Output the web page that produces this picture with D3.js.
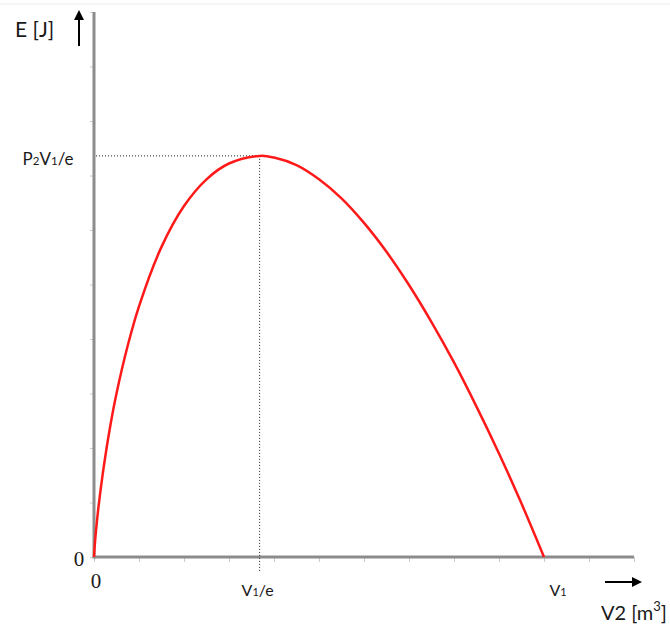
<!DOCTYPE html>
<html>
<head>
<meta charset="utf-8">
<script src="https://cdn.jsdelivr.net/npm/d3@7"></script>
<style>
  body { margin: 0; background: #fff; }
  text { font-family: Lato, "Open Sans", "DejaVu Sans", sans-serif; fill: #1a1a1a; }
  .serif { font-family: "Liberation Serif", "DejaVu Serif", serif; }
</style>
</head>
<body>
<div id="chart"></div>
<script>
let width = 670, height = 628;

// (x in tick units of V2, y in tick units of E)
let volume = [0, 0.02, 0.05, 0.1, 0.2, 0.35, 0.5, 0.75, 1, 1.5, 2, 2.5, 3, 3.68, 4, 4.5, 5, 5.5, 6, 6.5, 7, 7.5, 8, 8.5, 9, 9.5, 10];
let energy = [0, 0.25, 0.53, 0.92, 1.56, 2.35, 3.0, 3.88, 4.6, 5.69, 6.44, 6.93, 7.22, 7.36, 7.33, 7.19, 6.93, 6.58, 6.13, 5.6, 4.99, 4.31, 3.57, 2.76, 1.9, 0.98, 0];

let xTicks = d3.range(0, 13, 1);
let yTicks = d3.range(0, 11, 1);
// label parts: [text, subscript?]
let xLabels = [
    { v: 3.68, parts: [['V', false], ['1', true], ['/e', false]] },
    { v: 10, parts: [['V', false], ['1', true]] }
];
let peakLabel = [['P', false], ['2', true], ['V', false], ['1', true], ['/e', false]];
let peak = { v: 3.68, e: 7.36 };

let svg = d3.select('#chart')
    .append('svg')
    .attr('width', width)
    .attr('height', height);

let x = d3.scaleLinear().domain([0, 12]).range([94, 634]);
let y = d3.scaleLinear().domain([0, 10]).range([557, 12]);

// faint top border
svg.append('line')
    .attr('x1', 0).attr('x2', width)
    .attr('y1', 4).attr('y2', 4)
    .attr('stroke', '#ececec')
    .attr('stroke-width', 1);

// tick marks
let xAxis = svg.append('g')
    .attr('transform', `translate(0,${y(0)})`)
    .call(d3.axisBottom(x).tickValues(xTicks).tickSize(5).tickFormat(''));
let yAxis = svg.append('g')
    .attr('transform', `translate(${x(0)},0)`)
    .call(d3.axisLeft(y).tickValues(yTicks).tickSize(4).tickFormat(''));
[xAxis, yAxis].forEach(g => {
    g.select('.domain').remove();
    g.selectAll('.tick line').attr('stroke', '#cccccc').attr('stroke-width', 1);
});

// axis lines
svg.append('line')
    .attr('x1', x(0)).attr('x2', x(12))
    .attr('y1', y(0)).attr('y2', y(0))
    .attr('stroke', '#8c8c8c').attr('stroke-width', 3);
svg.append('line')
    .attr('x1', x(0)).attr('x2', x(0))
    .attr('y1', y(0) + 1.5).attr('y2', y(10))
    .attr('stroke', '#8c8c8c').attr('stroke-width', 3);

// dotted guides
svg.append('line')
    .attr('x1', x(0) + 2).attr('x2', x(peak.v))
    .attr('y1', y(peak.e)).attr('y2', y(peak.e))
    .attr('stroke', '#222').attr('stroke-width', 1)
    .attr('stroke-dasharray', '1,2');
svg.append('line')
    .attr('x1', x(peak.v)).attr('x2', x(peak.v))
    .attr('y1', y(peak.e)).attr('y2', y(0) + 14)
    .attr('stroke', '#222').attr('stroke-width', 1)
    .attr('stroke-dasharray', '1,2');

// curve
let pts = volume.map((v, i) => [v, energy[i]]);
svg.append('path')
    .datum(pts)
    .attr('fill', 'none')
    .attr('stroke', '#ff1a1a')
    .attr('stroke-width', 2.5)
    .attr('d', d3.line()
        .x(d => x(d[0]))
        .y(d => y(d[1]))
        .curve(d3.curveCatmullRom));

function subText(sel, parts, size) {
    parts.forEach(p => {
        sel.append('tspan')
            .style('font-size', p[1] ? (size * 0.68) + 'px' : size + 'px')
            .text(p[0]);
    });
}

// labels
svg.append('text')
    .attr('class', 'serif')
    .attr('x', 79).attr('y', 566)
    .attr('text-anchor', 'middle')
    .style('font-size', '21px')
    .text('0');
svg.append('text')
    .attr('class', 'serif')
    .attr('x', x(0) + 2).attr('y', 588)
    .attr('text-anchor', 'middle')
    .style('font-size', '21px')
    .text('0');

subText(svg.append('text')
    .attr('x', 48).attr('y', y(peak.e) + 9)
    .attr('text-anchor', 'middle'), peakLabel, 17);

svg.selectAll('.xlab')
    .data(xLabels)
    .enter()
    .append('text')
    .attr('x', d => x(d.v) + (d.v === 10 ? 14 : -2))
    .attr('y', 596)
    .attr('text-anchor', 'middle')
    .each(function (d) { subText(d3.select(this), d.parts, 16); });

svg.append('text')
    .attr('x', 15).attr('y', 37)
    .style('font-size', '21px')
    .text('E [J]');

let xTitle = svg.append('text')
    .attr('x', 601).attr('y', 620)
    .style('font-size', '20px');
xTitle.append('tspan').text('V2 [m');
xTitle.append('tspan').attr('dy', -9).style('font-size', '13px').text('3');
xTitle.append('tspan').attr('dy', 9).text(']');

// arrows
let defs = svg.append('defs');
defs.append('marker')
    .attr('id', 'head')
    .attr('viewBox', '0 0 10 10')
    .attr('refX', 2).attr('refY', 5)
    .attr('markerWidth', 5).attr('markerHeight', 5)
    .attr('orient', 'auto')
    .append('path')
    .attr('d', 'M0,0L10,5L0,10Z')
    .attr('fill', '#000');

svg.append('line')
    .attr('x1', 79).attr('y1', 46)
    .attr('x2', 79).attr('y2', 18)
    .attr('stroke', '#000').attr('stroke-width', 2)
    .attr('marker-end', 'url(#head)');
svg.append('line')
    .attr('x1', 605).attr('y1', 582)
    .attr('x2', 634).attr('y2', 582)
    .attr('stroke', '#000').attr('stroke-width', 2)
    .attr('marker-end', 'url(#head)');
</script>
</body>
</html>
